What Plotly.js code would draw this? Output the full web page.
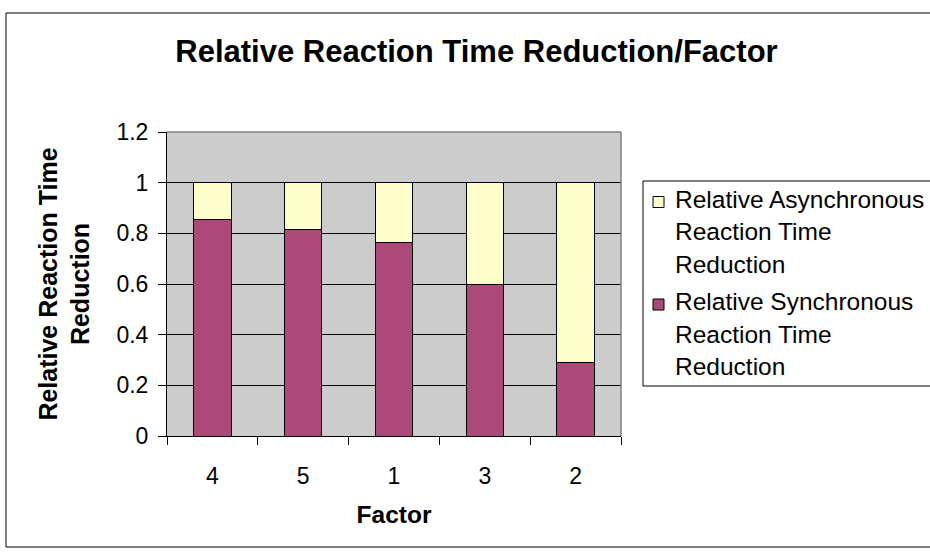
<!DOCTYPE html>
<html>
<head>
<meta charset="utf-8">
<script src="https://cdn.plot.ly/plotly-3.0.1.min.js"></script>
<style>
  html, body { margin: 0; padding: 0; background: #fff; }
  #chart { width: 930px; height: 553px; }
</style>
</head>
<body>
<div id="chart"></div>
<script>
// ---- data ----
const categories = ['4', '5', '1', '3', '2'];
const syncValues = [0.854, 0.814, 0.762, 0.600, 0.292];
const asyncValues = [0.146, 0.186, 0.238, 0.400, 0.708];
const seriesNames = ['Relative Asynchronous Reaction Time Reduction',
                     'Relative Synchronous Reaction Time Reduction'];
const yTickValues = [0, 0.2, 0.4, 0.6, 0.8, 1, 1.2];
const chartTitle = 'Relative Reaction Time Reduction/Factor';
const xTitle = 'Factor';
const yTitle = 'Relative Reaction Time<br>Reduction';

// ---- styles ----
const W = 930, H = 553;
const plotL = 167, plotR = 621, plotT = 132, plotB = 436;
const purple = '#AB4A78', cream = '#FFFFCC';
const FONT = 'Arial, "Liberation Sans", sans-serif';
const px = x => (x - plotL) / (plotR - plotL);
const py = y => (plotB - y) / (plotB - plotT);

const traces = [
  { type: 'bar', name: seriesNames[1], x: categories, y: syncValues,
    marker: { color: purple, line: { color: '#000', width: 1 } },
    width: 0.41, showlegend: false, hoverinfo: 'x+y+name' },
  { type: 'bar', name: seriesNames[0], x: categories, y: asyncValues,
    marker: { color: cream, line: { color: '#000', width: 1 } },
    width: 0.41, showlegend: false, hoverinfo: 'x+y+name' }
];

// custom legend (wrapped like the original)
function wrapName(name) {
  const w = name.split(' ');
  return [w.slice(0, 2).join(' '), w.slice(2, 4).join(' '), w.slice(4).join(' ')];
}
const legendFs = 24.5;
const legendEntries = [
  { lines: wrapName(seriesNames[0]), color: cream, base: 207.5 },
  { lines: wrapName(seriesNames[1]), color: purple, base: 310 }
];
const lineStep = 32.3;
const annotations = [];
const shapes = [
  // outer chart frame
  { type: 'rect', xref: 'paper', yref: 'paper', x0: px(6), x1: px(940), y0: py(547), y1: py(13),
    line: { color: '#000', width: 1 }, fillcolor: 'rgba(0,0,0,0)', layer: 'below' },
  // plot area top / right grey border
  { type: 'line', xref: 'paper', yref: 'paper', x0: 0, x1: 1, y0: 1, y1: 1,
    line: { color: '#808080', width: 1.5 }, layer: 'above' },
  { type: 'line', xref: 'paper', yref: 'paper', x0: 1, x1: 1, y0: 0, y1: 1,
    line: { color: '#808080', width: 1.5 }, layer: 'above' },
  // legend box
  { type: 'rect', xref: 'paper', yref: 'paper', x0: px(643), x1: px(940), y0: py(386), y1: py(181),
    line: { color: '#000', width: 1 }, fillcolor: '#fff', layer: 'above' }
];
legendEntries.forEach(e => {
  shapes.push({ type: 'rect', xref: 'paper', yref: 'paper',
    x0: px(653), x1: px(664), y0: py(e.base), y1: py(e.base - 11),
    line: { color: '#000', width: 1 }, fillcolor: e.color, layer: 'above' });
  e.lines.forEach((t, i) => {
    annotations.push({ xref: 'paper', yref: 'paper', x: px(673), y: py(e.base + i * lineStep - 0.33 * legendFs),
      xanchor: 'left', yanchor: 'middle', showarrow: false, text: t,
      font: { family: FONT, size: legendFs, color: '#000' } });
  });
});

const layout = {
  width: W, height: H,
  margin: { l: plotL, r: W - plotR, t: plotT, b: H - plotB, pad: 0 },
  paper_bgcolor: '#fff', plot_bgcolor: '#CCCCCC',
  barmode: 'stack',
  font: { family: FONT, color: '#000' },
  title: { text: '<b>' + chartTitle + '</b>', font: { family: FONT, size: 31, color: '#000' },
    xref: 'container', yref: 'container', x: 476.5 / W, xanchor: 'center', y: 1 - 51 / H, yanchor: 'middle' },
  xaxis: {
    type: 'category', range: [-0.5, 4.5], fixedrange: true,
    tickson: 'boundaries', ticks: 'outside', ticklen: 8, tickcolor: '#000', tickwidth: 1,
    showline: true, linecolor: '#000', linewidth: 1, showgrid: false, zeroline: false,
    tickfont: { family: FONT, size: 23, color: '#000' }, ticklabelstandoff: 19,
    title: { text: '<b>' + xTitle + '</b>', font: { family: FONT, size: 24.5, color: '#000' }, standoff: 18 },
    automargin: false
  },
  yaxis: {
    range: [0, 1.2], tickvals: yTickValues, fixedrange: true,
    ticks: 'outside', ticklen: 8, tickcolor: '#000', tickwidth: 1,
    showline: true, linecolor: '#000', linewidth: 1,
    showgrid: true, gridcolor: '#000', gridwidth: 1, zeroline: false,
    tickfont: { family: FONT, size: 23, color: '#000' }, ticklabelstandoff: 5,
    title: { text: '<b>' + yTitle + '</b>', font: { family: FONT, size: 25, color: '#000' }, standoff: 19 },
    automargin: false
  },
  shapes: shapes,
  annotations: annotations,
  showlegend: false
};

Plotly.newPlot('chart', traces, layout, { displayModeBar: false, staticPlot: true });
</script>
</body>
</html>
